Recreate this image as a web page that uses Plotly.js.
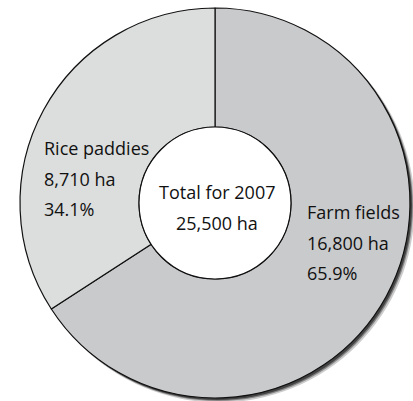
<!DOCTYPE html>
<html>
<head>
<meta charset="utf-8">
<script src="https://cdn.plot.ly/plotly-3.0.1.min.js"></script>
<style>
  html, body { margin: 0; padding: 0; background: #ffffff; }
  #chart { width: 413px; height: 401px; }
</style>
</head>
<body>
<div id="chart"></div>
<script>
// Data
const categories = ['Farm fields', 'Rice paddies'];
const areas = [16800, 8710];
const percentLabels = ['65.9%', '34.1%'];
const totalTitle = 'Total for 2007';
const totalArea = 25500;
const sliceColors = ['#c9cacc', '#dcdddd'];

const W = 413, H = 401;
const px = x => x / W;
const py = y => 1 - y / H;
const fmt = v => v.toLocaleString('en-US') + ' ha';

// pie geometry (pixels)
const cx = 215, cy = 203, R = 195, r = 76;

const trace = {
  type: 'pie',
  labels: categories,
  values: areas,
  sort: false,
  direction: 'clockwise',
  rotation: 0,
  hole: r / R,
  textinfo: 'none',
  hoverinfo: 'none',
  marker: { colors: sliceColors, line: { color: '#111111', width: 1.2 } },
  domain: { x: [px(cx - R), px(cx + R)], y: [py(cy + R), py(cy - R)] },
  showlegend: false
};

const font = { family: 'Open Sans, sans-serif', size: 18, color: '#111111' };
const annotations = [];
function addLines(lines, xPix, yPix, anchor) {
  lines.forEach((t, i) => {
    annotations.push({
      text: t, xref: 'paper', yref: 'paper',
      x: px(xPix), y: py(yPix + i * 30.5),
      xanchor: anchor, yanchor: 'middle', showarrow: false, font: font
    });
  });
}
addLines([categories[0], fmt(areas[0]), percentLabels[0]], 305, 212, 'left');
addLines([categories[1], fmt(areas[1]), percentLabels[1]], 42, 148, 'left');
addLines([totalTitle, fmt(totalArea)], 217, 192, 'center');

// soft drop shadow built from offset translucent circles below the pie
const shadowSteps = [
  { d: 4, grow: 0.5, a: 0.2 },
  { d: 3, grow: 0.0, a: 0.35 },
  { d: 2, grow: 0.0, a: 0.5 }
];
const shapes = shadowSteps.map(s => ({
  type: 'circle', xref: 'paper', yref: 'paper', layer: 'below',
  x0: px(cx - R + s.d - s.grow), x1: px(cx + R + s.d + s.grow),
  y0: py(cy + R + s.d + s.grow), y1: py(cy - R + s.d - s.grow),
  fillcolor: 'rgba(0,0,0,' + s.a + ')', line: { width: 0 }
}));
shapes.push({
  type: 'circle', xref: 'paper', yref: 'paper', layer: 'above',
  x0: px(cx - r), x1: px(cx + r), y0: py(cy + r), y1: py(cy - r),
  fillcolor: '#ffffff', line: { color: '#111111', width: 1.2 }
});

const layout = {
  width: W, height: H,
  margin: { l: 0, r: 0, t: 0, b: 0 },
  paper_bgcolor: '#ffffff',
  plot_bgcolor: 'rgba(0,0,0,0)',
  showlegend: false,
  shapes: shapes,
  annotations: annotations
};

Plotly.newPlot('chart', [trace], layout, { displayModeBar: false, staticPlot: true });
</script>
</body>
</html>
